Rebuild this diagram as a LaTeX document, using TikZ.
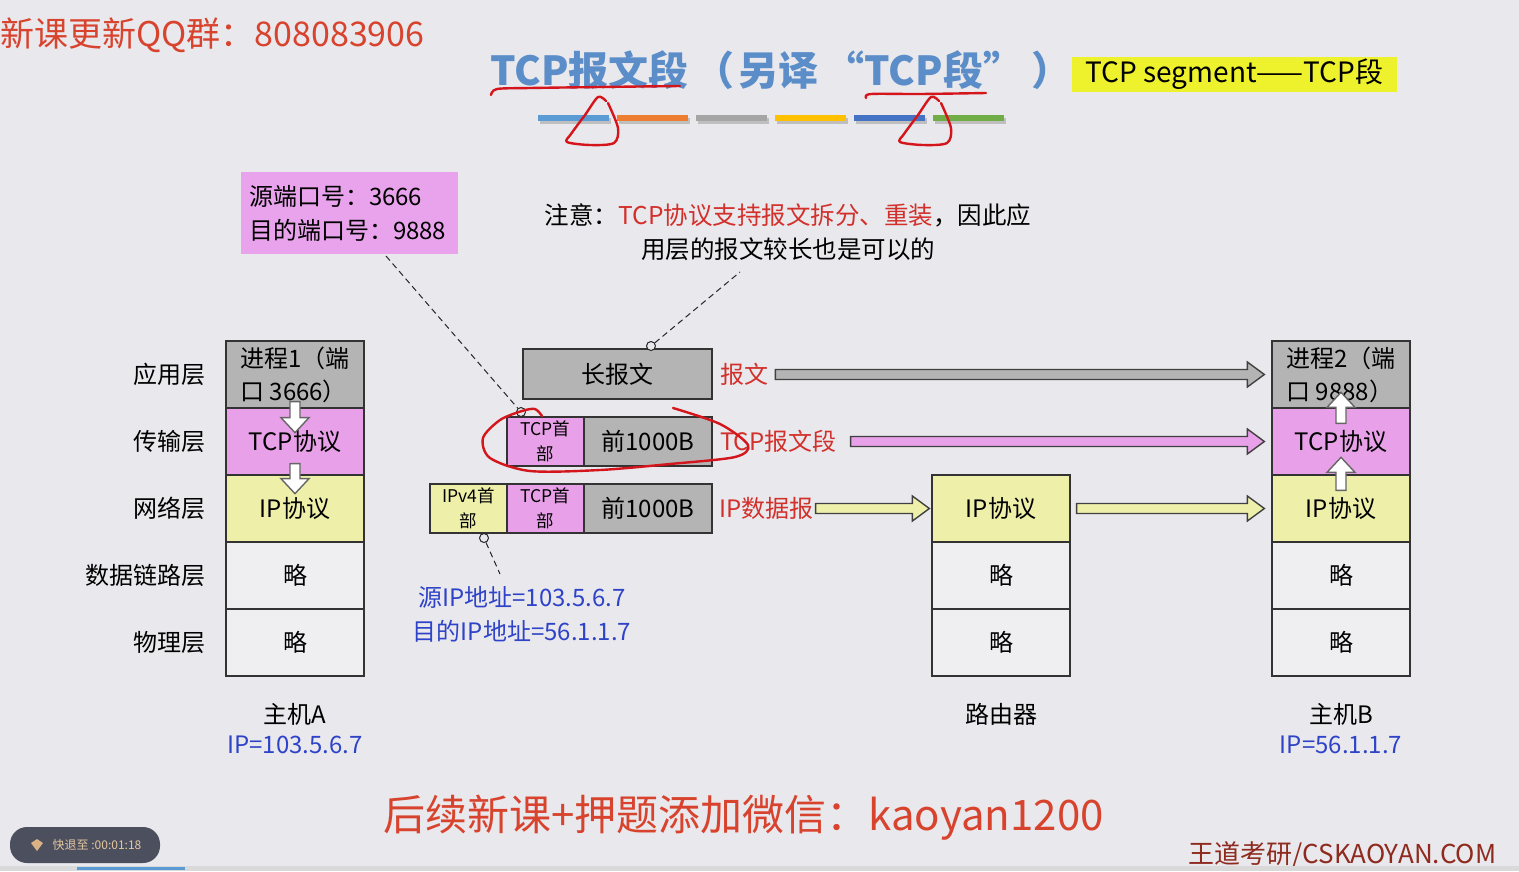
\documentclass[tikz,border=0pt]{standalone}
\usepackage{fontspec}
\setmainfont{Noto Sans CJK SC}
\usetikzlibrary{calc}
\definecolor{bg}{HTML}{E9E8EC}
\definecolor{grayb}{HTML}{B4B4B4}
\definecolor{pinkb}{HTML}{E8A1E8}
\definecolor{yelb}{HTML}{EEF0AA}
\definecolor{whiteb}{HTML}{EFEEF1}
\definecolor{infopink}{HTML}{E9A3EC}
\definecolor{redlab}{HTML}{D2302B}
\definecolor{bluetxt}{HTML}{2E43C8}
\definecolor{titleblue}{HTML}{5B8DC9}
\definecolor{hilite}{HTML}{EEF22C}
\definecolor{wmred}{HTML}{D8432E}
\definecolor{brandred}{HTML}{8E2A1E}
\definecolor{btn}{HTML}{4B4F5E}
\definecolor{btntxt}{HTML}{E6C8A0}
\definecolor{ink}{HTML}{D4151C}
\definecolor{barA}{HTML}{5B9BD5}
\definecolor{barB}{HTML}{ED7D31}
\definecolor{barC}{HTML}{A5A5A5}
\definecolor{barD}{HTML}{FFC000}
\definecolor{barE}{HTML}{4472C4}
\definecolor{barF}{HTML}{70AD47}
\newcommand\fs[2]{\fontsize{#1}{#2}\selectfont}
% #1 start, #2 end, #3 fill, #4 body half, #5 head half, #6 head length, #7 line colour
\newcommand\fatarrow[7]{%
  \coordinate (fab) at ($(#2)!#6!(#1)$);
  \draw[line width=1.4pt, draw=#7, fill=#3, line join=miter]
    ($(#1)!#4!90:(#2)$) -- ($(fab)!#4!90:(#2)$) -- ($(fab)!#5!90:(#2)$) -- (#2)
    -- ($(fab)!#5!-90:(#2)$) -- ($(fab)!#4!-90:(#2)$) -- ($(#1)!#4!-90:(#2)$) -- cycle;}
\tikzset{
  layer/.style={draw=black!80, line width=1.3pt, minimum width=138pt, minimum height=67pt, inner sep=0pt, font=\fs{24}{33}},
  pkt/.style={draw=black!80, line width=1.3pt, minimum height=49pt, inner sep=0pt},
  laylabel/.style={anchor=east, inner sep=0pt, font=\fs{24}{30}},
  redlabel/.style={anchor=west, inner sep=0pt, text=redlab, font=\fs{24}{30}},
  pincircle/.style={circle, draw=black!85, line width=1pt, fill=bg, minimum size=9pt, inner sep=0pt},
  dashline/.style={draw=black!85, line width=1pt, dash pattern=on 6pt off 4pt},
  inkline/.style={draw=ink, line width=2.4pt, line cap=round, line join=round}
}
\begin{document}
\begin{tikzpicture}[x=1pt,y=-1pt]
\useasboundingbox (0,0) rectangle (1519,871);
\fill[bg] (0,0) rectangle (1519,871);

% ---------- header ----------
\node[anchor=west, inner sep=0pt, text=wmred, font=\fs{34}{40}] (qq) at (0,35) {新课更新QQ群：808083906};
\node[anchor=west, inner sep=0pt, text=titleblue, font=\fs{40}{46}\bfseries] (title) at (490,70) {TCP报文段\hspace{6pt}（\hspace{4pt}另译\hspace{6pt}“TCP段”\hspace{8pt}）};
\node[fill=hilite, minimum width=325pt, minimum height=35pt, inner sep=0pt, font=\fs{28}{32}] (seg) at (1234.5,74.5) {TCP segment——TCP段};
\foreach \c [count=\i from 0] in {barA,barB,barC,barD,barE,barF}{
  \fill[black!25] ({540+79*\i},118) rectangle ({611+79*\i},124);
  \fill[\c] ({538+79*\i},115) rectangle ({609+79*\i},121);
}

% ---------- host A ----------
\node[layer, fill=grayb, align=left] (A1) at (295,374.5) {进程1（端\\口 3666）};
\node[layer, fill=pinkb] (A2) at (295,441.5) {TCP协议};
\node[layer, fill=yelb] (A3) at (295,508.5) {IP协议};
\node[layer, fill=whiteb] (A4) at (295,575.5) {略};
\node[layer, fill=whiteb] (A5) at (295,642.5) {略};
\node[laylabel] (lA1) at (206,374.5) {应用层};
\node[laylabel] (lA2) at (206,441.5) {传输层};
\node[laylabel] (lA3) at (206,508.5) {网络层};
\node[laylabel] (lA4) at (206,575.5) {数据链路层};
\node[laylabel] (lA5) at (206,642.5) {物理层};
\node[font=\fs{24}{30}] (hA) at (295,714) {主机A};
\node[font=\fs{24}{30}, text=bluetxt] (ipA) at (295,745) {IP=103.5.6.7};

% ---------- router ----------
\node[layer, fill=yelb] (R3) at (1001,508.5) {IP协议};
\node[layer, fill=whiteb] (R4) at (1001,575.5) {略};
\node[layer, fill=whiteb] (R5) at (1001,642.5) {略};
\node[font=\fs{24}{30}] (hR) at (1001,714) {路由器};

% ---------- host B ----------
\node[layer, fill=grayb, align=left] (B1) at (1341,374.5) {进程2（端\\口 9888）};
\node[layer, fill=pinkb] (B2) at (1341,441.5) {TCP协议};
\node[layer, fill=yelb] (B3) at (1341,508.5) {IP协议};
\node[layer, fill=whiteb] (B4) at (1341,575.5) {略};
\node[layer, fill=whiteb] (B5) at (1341,642.5) {略};
\node[font=\fs{24}{30}] (hB) at (1341,714) {主机B};
\node[font=\fs{24}{30}, text=bluetxt] (ipB) at (1341,745) {IP=56.1.1.7};

% ---------- packets ----------
\node[pkt, fill=grayb, minimum width=189pt, minimum height=50pt, font=\fs{24}{30}] (P0) at (617.5,374) {长报文};
\node[pkt, fill=pinkb, minimum width=77pt, align=center, font=\fs{17.5}{25}] (T1) at (545.5,441.5) {TCP首\\部};
\node[pkt, fill=grayb, minimum width=128pt, font=\fs{24}{30}] (D1) at (648,441.5) {前1000B};
\node[pkt, fill=yelb, minimum width=77pt, align=center, font=\fs{17.5}{25}] (I2) at (468.5,508.5) {IPv4首\\部};
\node[pkt, fill=pinkb, minimum width=77pt, align=center, font=\fs{17.5}{25}] (T2) at (545.5,508.5) {TCP首\\部};
\node[pkt, fill=grayb, minimum width=128pt, font=\fs{24}{30}] (D2) at (648,508.5) {前1000B};
\node[redlabel] (L1) at (720,374.5) {报文};
\node[redlabel] (L2) at (720,441.5) {TCP报文段};
\node[redlabel] (L3) at (719,508.5) {IP数据报};

% ---------- annotations ----------
\node[fill=infopink, minimum width=217pt, minimum height=82pt, text width=201pt, align=left, inner sep=0pt, font=\fs{24}{34}] (PB) at (349.5,213) {源端口号：3666\\目的端口号：9888};
\node[align=center, inner sep=0pt, font=\fs{24.5}{34}] (note) at (788,232) {注意：{\color{redlab}TCP协议支持报文拆分、重装}，因此应\\用层的报文较长也是可以的};
\node[align=center, inner sep=0pt, text=bluetxt, font=\fs{24}{34}] (ipnote) at (522,614) {源IP地址=103.5.6.7\\目的IP地址=56.1.1.7};
\coordinate (d1) at (386,256);
\coordinate (d2) at (740,272);
\coordinate (d3) at (500,574);
\node[pincircle] (c1) at (521,412) {};
\node[pincircle] (c2) at (651,346) {};
\node[pincircle] (c3) at (484,538) {};
\draw[dashline] (d1) -- (c1);
\draw[dashline] (c2) -- (d2);
\draw[dashline] (c3) -- (d3);

% ---------- big arrows ----------
\coordinate (s1) at ($(L1.east)+(7,0)$);
\coordinate (e1) at ($(B1.west)+(-7,0)$);
\fatarrow{s1}{e1}{grayb}{5pt}{12.5pt}{17pt}{black!75}
\coordinate (s2) at ($(L2.east)+(14,0)$);
\coordinate (e2) at ($(B2.west)+(-7,0)$);
\fatarrow{s2}{e2}{pinkb}{5pt}{12.5pt}{17pt}{black!75}
\coordinate (s3) at ($(L3.east)+(2,0)$);
\coordinate (e3) at ($(R3.west)+(-2,0)$);
\fatarrow{s3}{e3}{yelb}{5pt}{12.5pt}{17pt}{black!75}
\coordinate (s4) at ($(R3.east)+(6,0)$);
\coordinate (e4) at ($(B3.west)+(-7,0)$);
\fatarrow{s4}{e4}{yelb}{5pt}{12.5pt}{17pt}{black!75}

% vertical arrows
\coordinate (va1) at ($(A1.south)+(0,-7)$);
\coordinate (vb1) at ($(A1.south)+(0,24)$);
\fatarrow{va1}{vb1}{white}{5pt}{14pt}{15pt}{black!60}
\coordinate (va2) at ($(A2.south)+(0,-12)$);
\coordinate (vb2) at ($(A2.south)+(0,18)$);
\fatarrow{va2}{vb2}{white}{5pt}{14pt}{15pt}{black!60}
\coordinate (vc1) at ($(B2.north)+(0,16)$);
\coordinate (vd1) at ($(B2.north)+(0,-15)$);
\fatarrow{vc1}{vd1}{white}{5pt}{14pt}{15pt}{black!60}
\coordinate (vc2) at ($(B3.north)+(0,16)$);
\coordinate (vd2) at ($(B3.north)+(0,-17)$);
\fatarrow{vc2}{vd2}{white}{5pt}{14pt}{15pt}{black!60}

% ---------- hand-drawn ink ----------
\draw[inkline] plot[smooth] coordinates {(491,95) (497,89) (530,88) (600,87) (680,86)};
\draw[inkline] plot[smooth] coordinates {(606,101) (598,97) (585,115) (571,134) (567,142) (590,145) (614,143) (618,128) (608,103)};
\draw[inkline] plot[smooth] coordinates {(866,98) (871,94) (920,94) (986,93)};
\draw[inkline] plot[smooth] coordinates {(939,101) (931,97) (918,115) (904,134) (900,142) (923,145) (947,143) (951,128) (941,103)};
\draw[inkline] plot[smooth] coordinates {(673,408) (720,424) (748,445) (735,457) (670,464) (600,470) (530,471) (490,458) (483,438) (500,420) (522,411) (535,409) (542,416)};

% ---------- footer ----------
\node[inner sep=0pt, text=wmred, font=\fs{42}{48}] (wx) at (743.5,818) {后续新课+押题添加微信：kaoyan1200};
\node[inner sep=0pt, text=brandred, font=\fs{26}{30}] (brand) at (1342.5,855) {王道考研/CSKAOYAN.COM};
\fill[btn, rounded corners=17pt] (10,827) rectangle (160,863);
\fill[btntxt!70!brown] (37,839) -- (43,843) -- (37,851) -- (31,843) -- cycle;
\node[inner sep=0pt, text=btntxt, font=\fs{12}{14}] (btnt) at (97,845) {快退至 :00:01:18};
\fill[white!85!black] (0,866) rectangle (1519,871);
\fill[barA] (77,867) rectangle (185,870);
\end{tikzpicture}
\end{document}
